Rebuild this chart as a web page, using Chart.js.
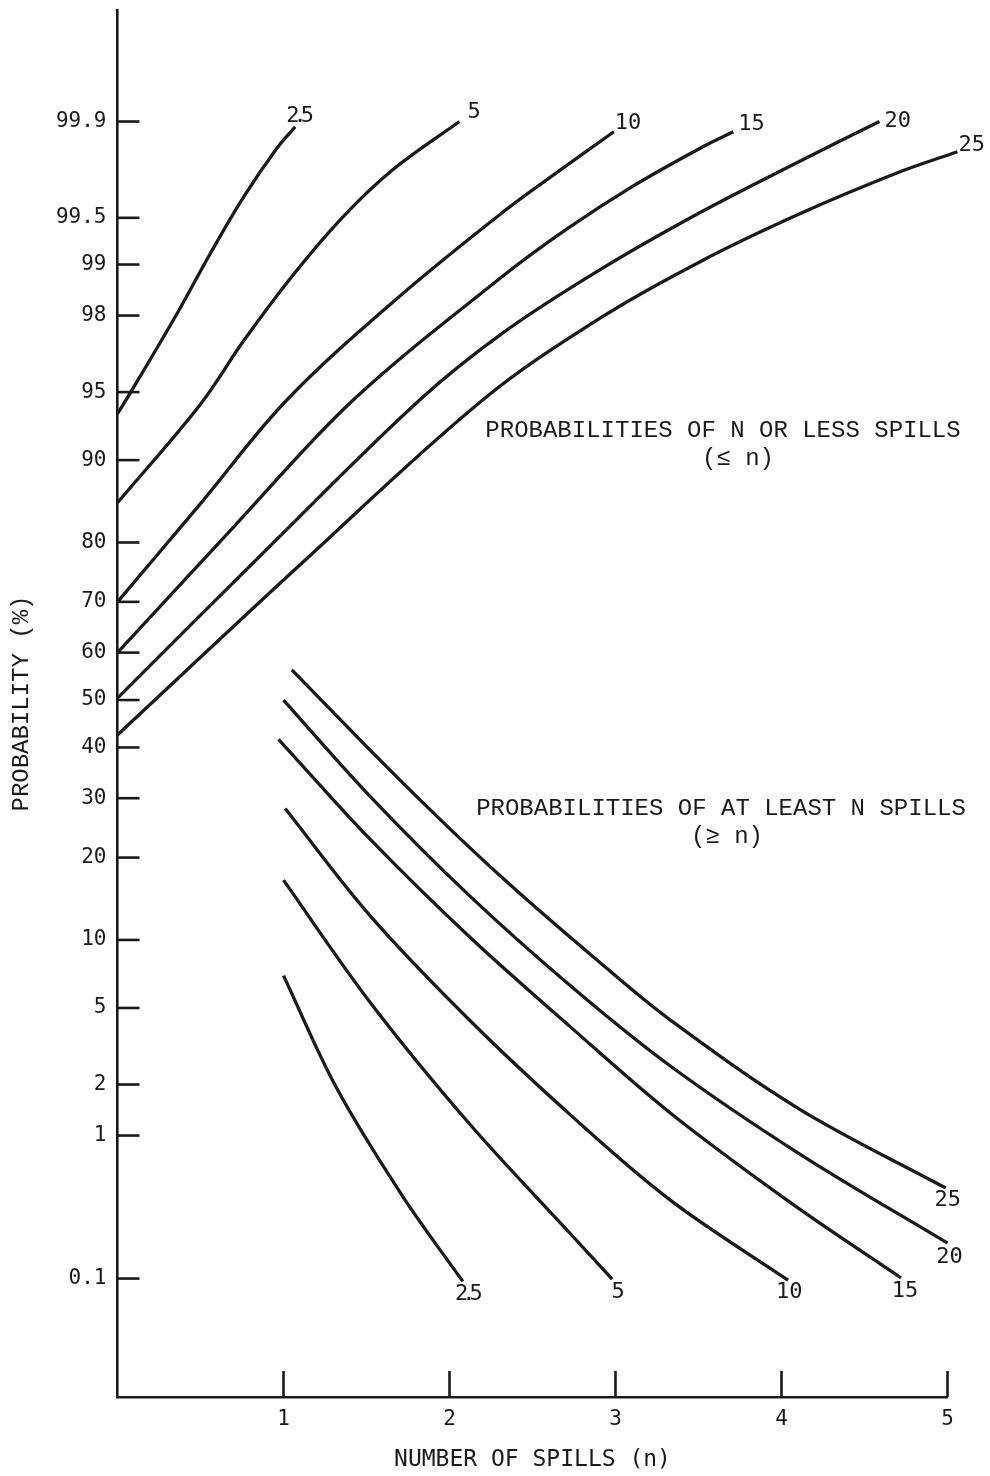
<!DOCTYPE html>
<html>
<head>
<meta charset="utf-8">
<script src="https://cdn.jsdelivr.net/npm/chart.js@4.4.0/dist/chart.umd.min.js"></script>
<style>
  html, body { margin: 0; padding: 0; background: #fff; }
  #wrap { width: 990px; height: 1476px; }
</style>
</head>
<body>
<div id="wrap"><canvas id="spillChart" width="990" height="1476"></canvas></div>
<script>
// axis ticks
const probTicks = [0.1, 1, 2, 5, 10, 20, 30, 40, 50, 60, 70, 80, 90, 95, 98, 99, 99.5, 99.9];
const spillTicks = [1, 2, 3, 4, 5];
const curveNames = ['2.5', '5', '10', '15', '20', '25'];

// probabilities of n or less spills (%)
const le2_5N = [0, 0.08, 0.36, 0.56, 0.76, 0.96, 1.07];
const le2_5P = [93.7, 95.0, 98.06, 99.15, 99.64, 99.84, 99.89];
const le5N = [0, 0.50, 0.76, 1.06, 1.36, 1.66, 2.06];
const le5P = [85.4, 94.3, 97.25, 98.85, 99.51, 99.77, 99.90];
const le10N = [0, 0.50, 1.02, 1.70, 2.33, 2.65, 2.99];
const le10P = [70.0, 85.3, 94.55, 98.45, 99.55, 99.76, 99.88];
const le15N = [0, 0.71, 1.42, 2.32, 2.71, 3.11, 3.51, 3.71];
const le15P = [60.0, 82.5, 94.55, 98.82, 99.41, 99.70, 99.84, 99.88];
const le20N = [0, 0.92, 1.82, 2.33, 2.91, 3.51, 4.11, 4.59];
const le20P = [50.4, 79.5, 94.55, 97.54, 98.93, 99.54, 99.80, 99.90];
const le25N = [0, 1.10, 2.20, 2.91, 3.51, 4.11, 4.71, 5.06];
const le25P = [42.6, 76.5, 94.55, 97.94, 99.04, 99.53, 99.76, 99.83];

// probabilities of at least n spills (%)
const ge2_5N = [1.00, 1.32, 1.72, 2.08];
const ge2_5P = [7.05, 1.91, 0.398, 0.095];
const ge5N = [1.00, 1.52, 2.12, 2.73, 2.98];
const ge5P = [16.8, 5.34, 1.18, 0.217, 0.099];
const ge10N = [1.01, 1.52, 2.12, 2.73, 3.33, 4.04];
const ge10P = [28.1, 12.5, 4.37, 1.33, 0.378, 0.097];
const ge15N = [0.97, 1.52, 2.12, 2.73, 3.33, 4.05, 4.72];
const ge15P = [41.7, 22.9, 10.3, 4.03, 1.37, 0.366, 0.101];
const ge20N = [1.00, 1.52, 2.12, 2.73, 3.33, 4.11, 5.00];
const ge20P = [50.0, 30.4, 14.8, 6.33, 2.53, 0.765, 0.186];
const ge25N = [1.05, 1.70, 2.30, 2.91, 3.33, 4.11, 4.99];
const ge25P = [56.4, 33.5, 17.5, 8.00, 4.37, 1.44, 0.457];

// inverse normal (Acklam) - probability paper axis
function probit(p) {
  const a = [-39.69683028665376, 220.9460984245205, -275.9285104469687, 138.3577518672690, -30.66479806614716, 2.506628277459239];
  const b = [-54.47609879822406, 161.5858368580409, -155.6989798598866, 66.80131188771972, -13.28068155288572];
  const c = [-0.007784894002430293, -0.3223964580411365, -2.400758277161838, -2.549732539343734, 4.374664141464968, 2.938163982698783];
  const d = [0.007784695709041462, 0.3224671290700398, 2.445134137142996, 3.754408661907416];
  const lo = 0.02425;
  let q, r;
  if (p < lo) {
    q = Math.sqrt(-2 * Math.log(p));
    return (((((c[0]*q + c[1])*q + c[2])*q + c[3])*q + c[4])*q + c[5]) / ((((d[0]*q + d[1])*q + d[2])*q + d[3])*q + 1);
  }
  if (p > 1 - lo) {
    q = Math.sqrt(-2 * Math.log(1 - p));
    return -(((((c[0]*q + c[1])*q + c[2])*q + c[3])*q + c[4])*q + c[5]) / ((((d[0]*q + d[1])*q + d[2])*q + d[3])*q + 1);
  }
  q = p - 0.5; r = q * q;
  return (((((a[0]*r + a[1])*r + a[2])*r + a[3])*r + a[4])*r + a[5])*q / (((((b[0]*r + b[1])*r + b[2])*r + b[3])*r + b[4])*r + 1);
}

function toPoints(ns, ps) {
  return ns.map((n, i) => ({ x: n, y: probit(ps[i] / 100) }));
}

const INK = '#1a1a1a';

// label offsets from the end of each curve
const leOffsets = [[2, -5, 'center'], [8, -4, 'left'], [1, -3, 'left'], [5, -2, 'left'], [5, 5, 'left'], [1, -1, 'left']];
const geOffsets = [[3, 13], [6, 13], [1, 12], [4, 13], [2, 14], [2, 12]];

const lessSeries = [[le2_5N, le2_5P], [le5N, le5P], [le10N, le10P], [le15N, le15P], [le20N, le20P], [le25N, le25P]];
const moreSeries = [[ge2_5N, ge2_5P], [ge5N, ge5P], [ge10N, ge10P], [ge15N, ge15P], [ge20N, ge20P], [ge25N, ge25P]];

const datasets = [];
lessSeries.forEach((s, i) => {
  datasets.push({
    label: '<= ' + curveNames[i], data: toPoints(s[0], s[1]), family: 'le', name: curveNames[i], off: leOffsets[i],
    showLine: true, borderColor: INK, borderWidth: 3.3, pointRadius: 0, tension: 0.35, clip: false
  });
});
moreSeries.forEach((s, i) => {
  datasets.push({
    label: '>= ' + curveNames[i], data: toPoints(s[0], s[1]), family: 'ge', name: curveNames[i], off: geOffsets[i],
    showLine: true, borderColor: INK, borderWidth: 3.3, pointRadius: 0, tension: 0.35, clip: false
  });
});

// inward tick marks, curve labels and the two captions
const paperPlugin = {
  id: 'paper',
  afterDraw(chart) {
    const ctx = chart.ctx;
    const xs = chart.scales.x, ys = chart.scales.y;
    ctx.save();
    ctx.strokeStyle = INK;
    ctx.lineWidth = 2.6;
    ys.ticks.forEach(t => {
      const py = ys.getPixelForValue(t.value);
      ctx.beginPath(); ctx.moveTo(xs.left, py); ctx.lineTo(xs.left + 22, py); ctx.stroke();
    });
    xs.ticks.forEach(t => {
      const px = xs.getPixelForValue(t.value);
      ctx.beginPath(); ctx.moveTo(px, ys.bottom); ctx.lineTo(px, ys.bottom - 26); ctx.stroke();
    });

    ctx.fillStyle = INK;
    ctx.font = '22px "DejaVu Sans Mono"';
    chart.data.datasets.forEach((ds, i) => {
      const pts = chart.getDatasetMeta(i).data;
      const end = pts[pts.length - 1];
      ctx.letterSpacing = ds.name === '2.5' ? '-6px' : '0px';
      if (ds.family === 'le') {
        ctx.textAlign = ds.off[2];
        ctx.textBaseline = 'alphabetic';
      } else {
        ctx.textAlign = 'center';
        ctx.textBaseline = 'middle';
      }
      ctx.fillText(ds.name, end.x + ds.off[0], end.y + ds.off[1]);
    });
    ctx.letterSpacing = '0px';

    ctx.font = '24px "Liberation Mono"';
    ctx.textAlign = 'center';
    ctx.textBaseline = 'middle';
    ctx.fillText('PROBABILITIES OF N OR LESS SPILLS', 723, 431);
    ctx.fillText('(\u2264 n)', 738, 459);
    ctx.fillText('PROBABILITIES OF AT LEAST N SPILLS', 721, 809);
    ctx.fillText('(\u2265 n)', 727, 837);
    ctx.restore();
  }
};

new Chart(document.getElementById('spillChart'), {
  type: 'scatter',
  data: { datasets },
  options: {
    responsive: false,
    animation: false,
    devicePixelRatio: 1,
    layout: { padding: { top: 10, right: 42.5, left: 0, bottom: 0 } },
    plugins: { legend: { display: false }, tooltip: { enabled: false } },
    scales: {
      x: {
        type: 'linear', min: 0, max: 5,
        afterBuildTicks: s => { s.ticks = spillTicks.map(v => ({ value: v })); },
        afterFit: s => { s.height = 79; s.paddingLeft = 0; s.paddingRight = 0; },
        grid: { display: false },
        border: { display: true, color: INK, width: 2.6 },
        ticks: { color: INK, padding: 2, font: { family: 'DejaVu Sans Mono', size: 21 }, autoSkip: false, maxRotation: 0 },
        title: { display: true, text: 'NUMBER OF SPILLS (n)', color: INK, font: { family: 'DejaVu Sans Mono', size: 23 }, padding: { bottom: 2 } }
      },
      y: {
        type: 'linear', min: -3.723, max: 3.686,
        afterBuildTicks: s => { s.ticks = probTicks.map(p => ({ value: probit(p / 100) })); },
        afterFit: s => { s.width = 117.5; s.paddingTop = 0; s.paddingBottom = 0; },
        grid: { display: false },
        border: { display: true, color: INK, width: 2.6 },
        ticks: {
          color: INK, padding: 3, autoSkip: false,
          font: { family: 'DejaVu Sans Mono', size: 21 },
          callback: (v, i) => String(probTicks[i])
        },
        title: { display: true, text: 'PROBABILITY (%)', color: INK, font: { family: 'Liberation Mono', size: 24 }, padding: { top: 7 } }
      }
    }
  },
  plugins: [paperPlugin]
});
</script>
</body>
</html>
